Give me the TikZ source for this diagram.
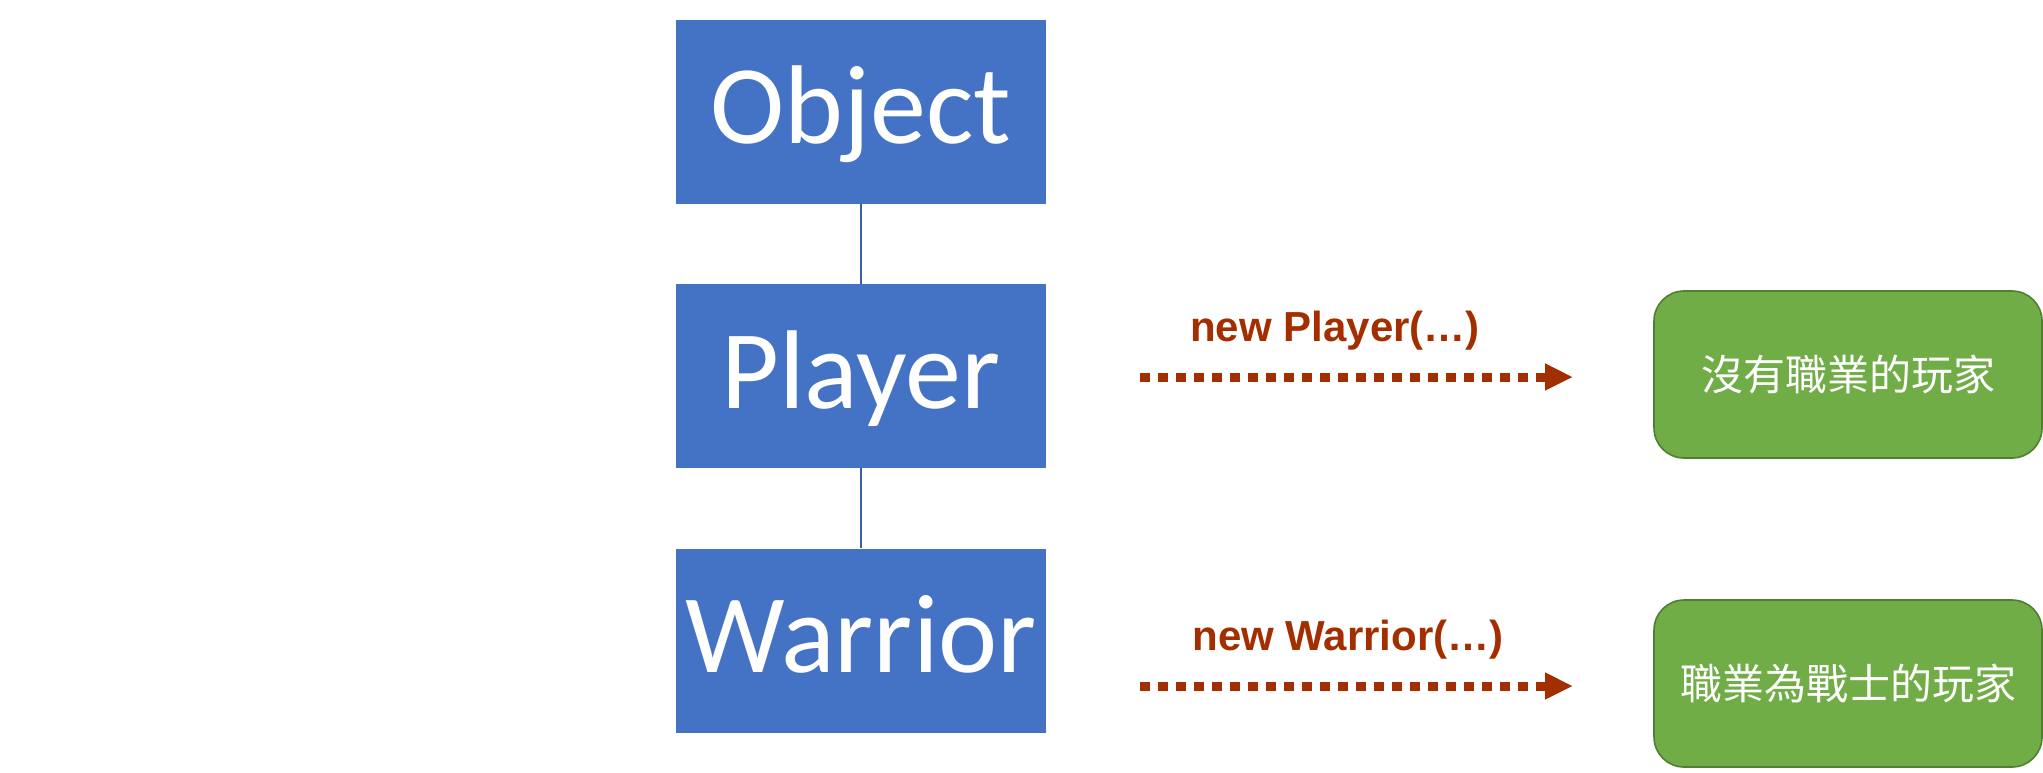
\documentclass[tikz,border=0pt]{standalone}
\usepackage{fontspec}
\setmainfont{Carlito}
\newfontfamily\labelfont{Liberation Sans}
\newfontfamily\cjkfont{Noto Sans CJK TC}
\usetikzlibrary{arrows.meta, calc}
\definecolor{classblue}{HTML}{4472C4}
\definecolor{linkblue}{HTML}{3A5FA8}
\definecolor{playergreen}{HTML}{70AD47}
\definecolor{playeredge}{HTML}{507E32}
\definecolor{newred}{RGB}{163,46,0}

\begin{document}
\begin{tikzpicture}[x=0.5pt, y=-0.5pt,
		classbox/.style={fill=classblue, text=white, minimum width=185pt, minimum height=92pt, inner sep=0pt, text height=32pt, text depth=0pt, font=\fontsize{56}{60}\selectfont},
		instbox/.style={fill=playergreen, draw=playeredge, line width=0.8pt, rounded corners=15pt, text=white, minimum width=194pt, minimum height=83.5pt, inner sep=0pt, font=\cjkfont\fontsize{21}{24}\selectfont},
		newlabel/.style={text=newred, inner sep=0pt, anchor=base, font=\labelfont\bfseries\fontsize{21}{24}\selectfont},
		newarrow/.style={draw=newred, line width=4.5pt, dash pattern=on 5pt off 4pt, -{Triangle[length=14pt, width=12.5pt]}},
		link/.style={draw=linkblue, line width=1pt}]
		\useasboundingbox (0, 0) rectangle (2043, 772);
		\node[classbox] (object) at (861, 111.5) {Object};
		\node[classbox] (player) at (861, 376) {Player};
		\node[classbox] (warrior) at (861, 640.5) {Warrior};
		\draw[link] (object) to (player);
		\draw[link] (player) to (warrior);
		\node[instbox] (noclass) at (1848, 374.5) {沒有職業的玩家};
		\node[instbox] (warclass) at (1848, 683.5) {職業為戰士的玩家};
		\coordinate (newp) at (1140, 377);
		\coordinate (newpend) at (1573, 377);
		\coordinate (neww) at (1140, 686);
		\coordinate (newwend) at (1573, 686);
		\draw[newarrow] (newp) to (newpend);
		\draw[newarrow] (neww) to (newwend);
		\node[newlabel] (playerlabel) at (1335, 341) {new Player(…)};
		\node[newlabel] (warriorlabel) at (1348, 650) {new Warrior(…)};
	\end{tikzpicture}
\end{document}
